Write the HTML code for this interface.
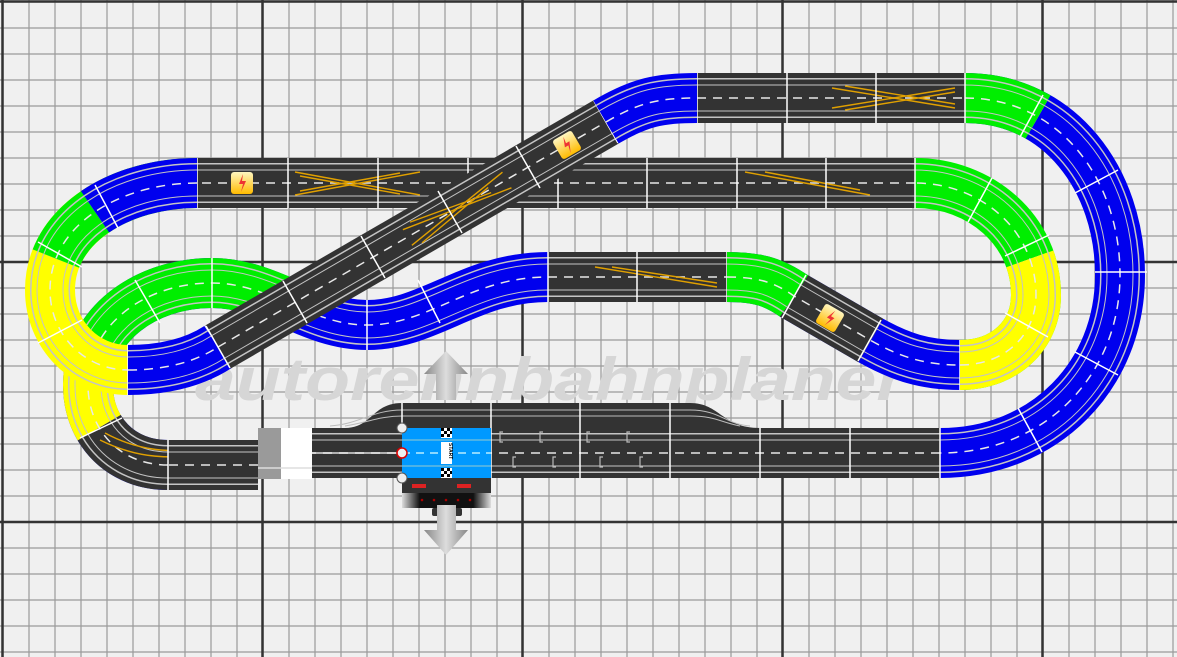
<!DOCTYPE html>
<html><head><meta charset="utf-8">
<style>
html,body{margin:0;padding:0;background:#f0f0f0;}
svg{display:block}
.L0{fill:none;stroke-width:50}
.L1{fill:none;stroke:#c4c4c4;stroke-width:40}
.L2{fill:none;stroke-width:37}
.L3{fill:none;stroke:#c4c4c4;stroke-width:27}
.L4{fill:none;stroke-width:25}
.L5{fill:none;stroke:#e8e8e8;stroke-width:1.5;stroke-dasharray:9 7}
.sep{stroke:#fff;stroke-width:1.5}
.x{stroke:#e0a000;stroke-width:1.4;fill:none}
</style></head>
<body>
<svg width="1177" height="657" viewBox="0 0 1177 657" xmlns="http://www.w3.org/2000/svg">
<defs>
<linearGradient id="ar" x1="0" x2="1"><stop offset="0" stop-color="#888"/><stop offset=".5" stop-color="#ddd"/><stop offset="1" stop-color="#888"/></linearGradient>
<linearGradient id="bk" x1="0" x2="1"><stop offset="0" stop-color="#ddd"/><stop offset=".2" stop-color="#111"/><stop offset=".8" stop-color="#111"/><stop offset="1" stop-color="#ddd"/></linearGradient>
<linearGradient id="lg" x1="0" y1="0" x2="0" y2="1"><stop offset="0" stop-color="#fff6c0"/><stop offset="1" stop-color="#ffbb00"/></linearGradient>
<g id="bolt"><rect x="-11" y="-11" width="22" height="22" rx="3" fill="url(#lg)"/><path d="M1,-9 L-3,1 L1,1 L-1,9 L4,-2 L0,-2 Z" fill="#e33"/></g>

<path id="pTop" d="M697,98 L965,98"/>
<path id="pR" pathLength="100" d="M965,98 C1060,98 1120,180 1120,275 C1120,375 1045,453 940,453"/>
<path id="pRd" d="M965,98 C1060,98 1120,180 1120,275 C1120,375 1045,453 940,453"/>
<path id="pBot" d="M940,453 L312,453"/>
<path id="pLs" d="M258,465 L168,465"/>
<path id="pIn" pathLength="100" d="M168,465 C120,465 88,430 88,385 C88,325 145,283 212,283 C270,283 310,325 367,325 C430,325 470,277 548,277"/>
<path id="pInd" d="M168,465 C120,465 88,430 88,385 C88,325 145,283 212,283 C270,283 310,325 367,325 C430,325 470,277 548,277"/>
<path id="pMid" d="M548,277 L727,277"/>
<path id="pF" pathLength="100" d="M727,277 C760,277 775,283 794,296 L870,340 C900,357 925,365 960,365"/>
<path id="pFd" d="M727,277 C760,277 775,283 794,296 L870,340 C900,357 925,365 960,365"/>
<path id="pY" pathLength="100" d="M960,365 C1005,365 1036,335 1036,295 C1036,230 980,183 915,183"/>
<path id="pYd" d="M960,365 C1005,365 1036,335 1036,295 C1036,230 980,183 915,183"/>
<path id="pG" d="M915,183 L197,183"/>
<path id="pL" pathLength="100" d="M197,183 C120,183 50,225 50,290 C50,335 85,370 128,370"/>
<path id="pLd" d="M197,183 C120,183 50,225 50,290 C50,335 85,370 128,370"/>
<path id="pB" d="M128,370 C165,370 195,362 218,347"/>
<path id="pD" d="M218,347 L606,122"/>
<path id="pB2" d="M606,122 C640,102 660,98 697,98"/>
</defs>

<rect width="1177" height="657" fill="#f0f0f0"/>
<path stroke="#9a9a9a" stroke-width="1.2" fill="none" d="M3,0V657M29,0V657M55,0V657M81,0V657M107,0V657M133,0V657M159,0V657M185,0V657M211,0V657M237,0V657M263,0V657M289,0V657M315,0V657M341,0V657M367,0V657M393,0V657M419,0V657M445,0V657M471,0V657M497,0V657M523,0V657M549,0V657M575,0V657M601,0V657M627,0V657M653,0V657M679,0V657M705,0V657M731,0V657M757,0V657M783,0V657M809,0V657M835,0V657M861,0V657M887,0V657M913,0V657M939,0V657M965,0V657M991,0V657M1017,0V657M1043,0V657M1069,0V657M1095,0V657M1121,0V657M1147,0V657M1173,0V657
M0,2H1177M0,28H1177M0,54H1177M0,80H1177M0,106H1177M0,132H1177M0,158H1177M0,184H1177M0,210H1177M0,236H1177M0,262H1177M0,288H1177M0,314H1177M0,340H1177M0,366H1177M0,392H1177M0,418H1177M0,444H1177M0,470H1177M0,496H1177M0,522H1177M0,548H1177M0,574H1177M0,600H1177M0,626H1177M0,652H1177"/>
<g stroke="#333" stroke-width="2.5">
<line x1="2.5" y1="0" x2="2.5" y2="657"/><line x1="262.5" y1="0" x2="262.5" y2="657"/><line x1="522.5" y1="0" x2="522.5" y2="657"/><line x1="782.5" y1="0" x2="782.5" y2="657"/><line x1="1042.5" y1="0" x2="1042.5" y2="657"/>
<line x1="0" y1="1.5" x2="1177" y2="1.5"/><line x1="0" y1="262" x2="1177" y2="262"/><line x1="0" y1="522" x2="1177" y2="522"/>
</g>

<text x="195" y="400" font-family="Liberation Sans, sans-serif" font-size="60" font-weight="bold" font-style="italic" fill="#d6d6d6" textLength="710" lengthAdjust="spacingAndGlyphs">autorennbahnplaner</text>

<!-- inner route -->
<g stroke="#0000ee"><use href="#pIn" class="L0"/><use href="#pIn" class="L1"/><use href="#pIn" class="L2"/><use href="#pIn" class="L3"/><use href="#pIn" class="L4"/></g>
<g stroke="#00ee00" stroke-dasharray="0 23 35 100"><use href="#pIn" class="L0"/><use href="#pIn" class="L1"/><use href="#pIn" class="L2"/><use href="#pIn" class="L3"/><use href="#pIn" class="L4"/></g>
<g stroke="#ffff00" stroke-dasharray="0 12.5 10.5 100"><use href="#pIn" class="L0"/><use href="#pIn" class="L1"/><use href="#pIn" class="L2"/><use href="#pIn" class="L3"/><use href="#pIn" class="L4"/></g>
<g stroke="#333" stroke-dasharray="12.5 100"><use href="#pIn" class="L0"/><use href="#pIn" class="L1"/><use href="#pIn" class="L2"/><use href="#pIn" class="L3"/><use href="#pIn" class="L4"/></g>
<use href="#pInd" class="L5"/>
<path class="x" d="M100,440 C140,460 170,458 210,455 M105,433 C140,452 170,452 205,450"/>
<g class="sep"><line x1="212" y1="258" x2="212" y2="308"/><line x1="135" y1="280" x2="160" y2="323"/><line x1="367" y1="300" x2="367" y2="350"/><line x1="418" y1="280" x2="440" y2="323"/><line x1="80" y1="438" x2="122" y2="418"/></g>

<g stroke="#333"><use href="#pMid" class="L0"/><use href="#pMid" class="L1"/><use href="#pMid" class="L2"/><use href="#pMid" class="L3"/><use href="#pMid" class="L4"/></g>
<use href="#pMid" class="L5"/>
<path class="x" d="M595,267 L717,287 M612,267 L717,283"/>
<g class="sep"><line x1="637" y1="252" x2="637" y2="302"/><line x1="548" y1="252" x2="548" y2="302"/><line x1="727" y1="252" x2="727" y2="302"/></g>

<g stroke="#0000ee"><use href="#pF" class="L0"/><use href="#pF" class="L1"/><use href="#pF" class="L2"/><use href="#pF" class="L3"/><use href="#pF" class="L4"/></g>
<g stroke="#333" stroke-dasharray="0 28 35 100"><use href="#pF" class="L0"/><use href="#pF" class="L1"/><use href="#pF" class="L2"/><use href="#pF" class="L3"/><use href="#pF" class="L4"/></g>
<g stroke="#00ee00" stroke-dasharray="28 100"><use href="#pF" class="L0"/><use href="#pF" class="L1"/><use href="#pF" class="L2"/><use href="#pF" class="L3"/><use href="#pF" class="L4"/></g>
<use href="#pFd" class="L5"/>
<g class="sep"><line x1="806" y1="275" x2="782" y2="318"/><line x1="881" y1="320" x2="858" y2="361"/><line x1="960" y1="340" x2="960" y2="390"/></g>
<use href="#bolt" transform="translate(830,318) rotate(30)"/>

<g stroke="#00ee00"><use href="#pY" class="L0"/><use href="#pY" class="L1"/><use href="#pY" class="L2"/><use href="#pY" class="L3"/><use href="#pY" class="L4"/></g>
<g stroke="#ffff00" stroke-dasharray="51 100"><use href="#pY" class="L0"/><use href="#pY" class="L1"/><use href="#pY" class="L2"/><use href="#pY" class="L3"/><use href="#pY" class="L4"/></g>
<use href="#pYd" class="L5"/>
<g class="sep"><line x1="1005" y1="313" x2="1048" y2="337"/><line x1="1005" y1="256" x2="1049" y2="235"/><line x1="968" y1="222" x2="992" y2="178"/></g>

<!-- outer right -->
<g stroke="#0000ee"><use href="#pR" class="L0"/><use href="#pR" class="L1"/><use href="#pR" class="L2"/><use href="#pR" class="L3"/><use href="#pR" class="L4"/></g>
<g stroke="#00ee00" stroke-dasharray="14 100"><use href="#pR" class="L0"/><use href="#pR" class="L1"/><use href="#pR" class="L2"/><use href="#pR" class="L3"/><use href="#pR" class="L4"/></g>
<use href="#pRd" class="L5"/>
<g class="sep"><line x1="1043" y1="95" x2="1020" y2="137"/><line x1="1118" y1="170" x2="1075" y2="193"/><line x1="1095" y1="272" x2="1147" y2="272"/><line x1="1075" y1="352" x2="1118" y2="375"/><line x1="1018" y1="408" x2="1042" y2="452"/></g>

<g stroke="#333"><use href="#pTop" class="L0"/><use href="#pTop" class="L1"/><use href="#pTop" class="L2"/><use href="#pTop" class="L3"/><use href="#pTop" class="L4"/></g>
<use href="#pTop" class="L5"/>
<path class="x" d="M832,88 L955,108 M832,108 L955,88 M845,86 L955,104 M845,110 L955,92"/>
<g class="sep"><line x1="787" y1="73" x2="787" y2="123"/><line x1="876" y1="73" x2="876" y2="123"/><line x1="965" y1="73" x2="965" y2="123"/><line x1="697" y1="73" x2="697" y2="123"/></g>

<!-- bottom straight / station -->
<path d="M312,428 L345,428 C372,428 372,403 402,403 L690,403 C720,403 722,428 760,428 Z" fill="#333"/>
<path d="M330,426 C360,424 372,410 402,410 L690,410 C720,410 725,424 750,426" stroke="#bbb" stroke-width="1" fill="none"/>
<path d="M345,426 C370,422 380,416 402,416 L690,416 C715,416 720,422 740,426" stroke="#bbb" stroke-width="1" fill="none"/>
<g stroke="#333"><use href="#pBot" class="L0"/><use href="#pBot" class="L1"/><use href="#pBot" class="L2"/><use href="#pBot" class="L3"/><use href="#pBot" class="L4"/></g>
<use href="#pBot" class="L5"/>
<line x1="312" y1="453" x2="402" y2="453" stroke="#fff" stroke-width="1.2"/>
<rect x="258" y="428" width="23" height="51" fill="#9a9a9a"/>
<rect x="281" y="428" width="31" height="51" fill="#fff"/>
<line x1="258" y1="468" x2="312" y2="468" stroke="#ddd" stroke-width="1.5"/>
<g class="sep"><line x1="491" y1="403" x2="491" y2="478"/><line x1="580" y1="403" x2="580" y2="478"/><line x1="670" y1="403" x2="670" y2="478"/><line x1="760" y1="428" x2="760" y2="478"/><line x1="850" y1="428" x2="850" y2="478"/><line x1="940" y1="428" x2="940" y2="478"/><line x1="402" y1="403" x2="402" y2="428"/></g>
<g stroke="#bbb" stroke-width="1.2" fill="none">
<path d="M503,432 h-3 v10 h3 M543,432 h-3 v10 h3 M590,432 h-3 v10 h3 M630,432 h-3 v10 h3 M516,457 h-3 v10 h3 M556,457 h-3 v10 h3 M603,457 h-3 v10 h3 M643,457 h-3 v10 h3"/></g>
<rect x="402" y="428" width="89" height="50" fill="#0099ff"/>
<line x1="402" y1="440" x2="491" y2="440" stroke="#9cc" stroke-width="1"/><line x1="402" y1="466" x2="491" y2="466" stroke="#9cc" stroke-width="1"/>
<line x1="402" y1="453" x2="491" y2="453" stroke="#dff" stroke-width="1.2" stroke-dasharray="8 6"/>
<g fill="#000"><rect x="441" y="428" width="11" height="10" fill="#fff"/><rect x="441" y="428" width="3" height="3"/><rect x="447" y="428" width="3" height="3"/><rect x="444" y="431" width="3" height="3"/><rect x="450" y="431" width="2" height="3"/><rect x="441" y="434" width="3" height="3"/><rect x="447" y="434" width="3" height="3"/>
<rect x="441" y="468" width="11" height="10" fill="#fff"/><rect x="441" y="468" width="3" height="3"/><rect x="447" y="468" width="3" height="3"/><rect x="444" y="471" width="3" height="3"/><rect x="450" y="471" width="2" height="3"/><rect x="441" y="474" width="3" height="3"/><rect x="447" y="474" width="3" height="3"/></g>
<rect x="441" y="442" width="11" height="22" fill="#fff"/>
<text x="0" y="0" transform="translate(449,443) rotate(90)" font-family="Liberation Sans, sans-serif" font-size="5" font-weight="bold" fill="#000">START</text>
<rect x="402" y="478" width="89" height="18" fill="#333"/>
<rect x="412" y="484" width="14" height="4" fill="#d22"/><rect x="457" y="484" width="14" height="4" fill="#d22"/>
<rect x="402" y="493" width="89" height="15" fill="url(#bk)"/>
<g fill="#a00"><circle cx="422" cy="500" r="1.3"/><circle cx="434" cy="500" r="1.3"/><circle cx="446" cy="500" r="1.3"/><circle cx="458" cy="500" r="1.3"/><circle cx="470" cy="500" r="1.3"/></g>
<rect x="432" y="508" width="30" height="8" rx="2" fill="#333"/>
<circle cx="402" cy="428" r="5" fill="#eee" stroke="#555"/><circle cx="402" cy="478" r="5" fill="#eee" stroke="#555"/>
<circle cx="402" cy="453" r="5" fill="#eee" stroke="#d00" stroke-width="1.5"/>
<path d="M446,351 L468,374 L456,374 L456,400 L436,400 L436,374 L424,374 Z" fill="url(#ar)"/>
<path d="M437,505 L456,505 L456,530 L468,530 L446,555 L424,530 L437,530 Z" fill="url(#ar)"/>

<g stroke="#333"><use href="#pLs" class="L0"/><use href="#pLs" class="L1"/><use href="#pLs" class="L2"/><use href="#pLs" class="L3"/><use href="#pLs" class="L4"/></g>
<use href="#pLs" class="L5"/>
<line class="sep" x1="168" y1="440" x2="168" y2="490"/>

<!-- second straight -->
<g stroke="#333"><use href="#pG" class="L0"/><use href="#pG" class="L1"/><use href="#pG" class="L2"/><use href="#pG" class="L3"/><use href="#pG" class="L4"/></g>
<use href="#pG" class="L5"/>
<path class="x" d="M295,172 L420,195 M295,195 L420,172 M300,176 L400,194 M300,191 L400,173 M745,172 L870,195 M765,172 L860,190"/>
<g class="sep"><line x1="288" y1="158" x2="288" y2="208"/><line x1="378" y1="158" x2="378" y2="208"/><line x1="468" y1="158" x2="468" y2="208"/><line x1="558" y1="158" x2="558" y2="208"/><line x1="647" y1="158" x2="647" y2="208"/><line x1="737" y1="158" x2="737" y2="208"/><line x1="826" y1="158" x2="826" y2="208"/><line x1="915" y1="158" x2="915" y2="208"/><line x1="197" y1="158" x2="197" y2="208"/></g>
<use href="#bolt" transform="translate(242,183)"/>

<!-- left loop -->
<g stroke="#ffff00"><use href="#pL" class="L0"/><use href="#pL" class="L1"/><use href="#pL" class="L2"/><use href="#pL" class="L3"/><use href="#pL" class="L4"/></g>
<g stroke="#00ee00" stroke-dasharray="52 100"><use href="#pL" class="L0"/><use href="#pL" class="L1"/><use href="#pL" class="L2"/><use href="#pL" class="L3"/><use href="#pL" class="L4"/></g>
<g stroke="#0000ee" stroke-dasharray="33 100"><use href="#pL" class="L0"/><use href="#pL" class="L1"/><use href="#pL" class="L2"/><use href="#pL" class="L3"/><use href="#pL" class="L4"/></g>
<use href="#pLd" class="L5"/>
<g class="sep"><line x1="95" y1="185" x2="118" y2="228"/><line x1="38" y1="242" x2="82" y2="267"/><line x1="38" y1="343" x2="82" y2="320"/><line x1="128" y1="345" x2="128" y2="395"/></g>

<g stroke="#0000ee"><use href="#pB" class="L0"/><use href="#pB" class="L1"/><use href="#pB" class="L2"/><use href="#pB" class="L3"/><use href="#pB" class="L4"/></g>
<use href="#pB" class="L5"/>
<g stroke="#333"><use href="#pD" class="L0"/><use href="#pD" class="L1"/><use href="#pD" class="L2"/><use href="#pD" class="L3"/><use href="#pD" class="L4"/></g>
<use href="#pD" class="L5"/>
<g transform="translate(455,210) rotate(-30)" class="x"><path d="M-55,-9 L60,9 M-55,9 L60,-9 M-45,-12 L40,3 M-45,12 L40,-3"/></g>
<g class="sep"><line x1="206" y1="326" x2="230" y2="368"/><line x1="283" y1="281" x2="307" y2="323"/><line x1="361" y1="236" x2="385" y2="278"/><line x1="438" y1="191" x2="462" y2="233"/><line x1="516" y1="146" x2="540" y2="188"/><line x1="594" y1="101" x2="618" y2="143"/></g>
<use href="#bolt" transform="translate(567,145) rotate(-30)"/>
<g stroke="#0000ee"><use href="#pB2" class="L0"/><use href="#pB2" class="L1"/><use href="#pB2" class="L2"/><use href="#pB2" class="L3"/><use href="#pB2" class="L4"/></g>
<use href="#pB2" class="L5"/>
</svg>
</body></html>
